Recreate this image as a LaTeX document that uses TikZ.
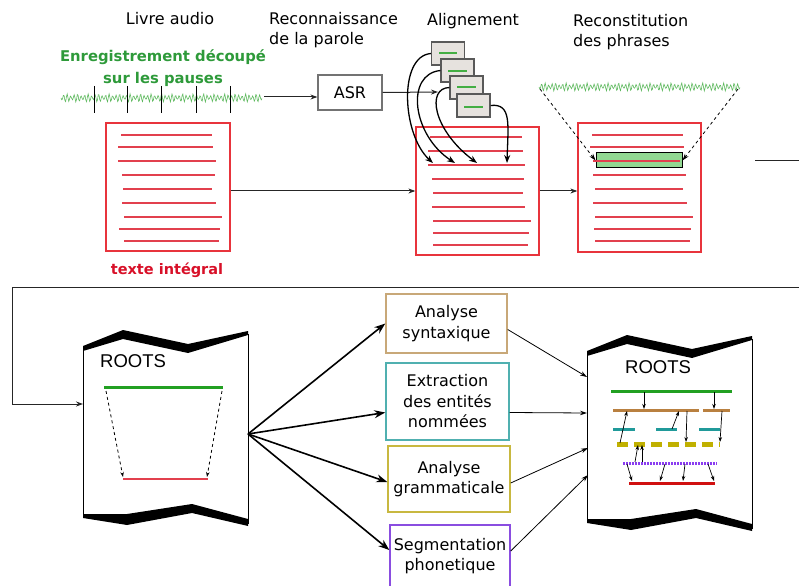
\documentclass[tikz,border=0pt]{standalone}
\usepackage{fontspec}
\setmainfont{DejaVu Sans}
\newfontfamily\rootsfont{Liberation Sans}
\usetikzlibrary{arrows.meta,calc}
\definecolor{redline}{HTML}{E2404E}
\definecolor{redbox}{HTML}{E8343C}
\definecolor{greentxt}{HTML}{2E9A3A}
\definecolor{wavegreen}{HTML}{5DB85D}
\definecolor{redtxt}{HTML}{D81028}
\definecolor{boxfill}{HTML}{E6E2DE}
\definecolor{hlfill}{HTML}{92D892}
\definecolor{syncol}{HTML}{C8A878}
\definecolor{extcol}{HTML}{50B0B0}
\definecolor{gramcol}{HTML}{C8B840}
\definecolor{segcol}{HTML}{8A4DE0}
\definecolor{rgreen}{HTML}{22A022}
\definecolor{rbrown}{HTML}{B98040}
\definecolor{rteal}{HTML}{209A9A}
\definecolor{rolive}{HTML}{C0B000}
\definecolor{rpurple}{HTML}{8A3CF0}
\definecolor{rred}{HTML}{D01010}
\tikzset{
  redframe/.style={draw=redbox, line width=1.3bp, inner sep=0, minimum width=124bp, minimum height=128bp},
  smallbox/.style={draw=black!65, fill=boxfill, line width=1.1bp, minimum width=33bp, minimum height=23bp, inner sep=0},
  wave/.style={draw=wavegreen, line width=0.6bp},
  conn/.style={draw=black!85, line width=1bp, -{Stealth[length=7bp,width=5bp]}},
  curvearrow/.style={draw=black, line width=1.3bp, -{Stealth[length=8bp,width=6bp]}},
  fan/.style={draw=black, line width=1.6bp, -{Stealth[length=11bp,width=8bp]}},
  thinarrow/.style={draw=black, line width=0.8bp, -{Stealth[length=7bp,width=4.5bp]}},
  tiny/.style={draw=black, line width=0.7bp, -{Stealth[length=5bp,width=3.5bp]}},
  procbox/.style={draw, line width=1.4bp, align=center, inner sep=2bp},
}
% thin text-line drawn as a filled bar
\newcommand{\tline}[4]{\fill[#4] (#1,#3-1) rectangle (#2,#3+1);}
\newcommand{\rootsshape}[1]{%
\begin{scope}[shift={#1}]
\fill (0,-4) -- (40,-20) -- (105,-6) -- (165,-19) -- (165,-15) -- (105,3) -- (40,-11) -- (0,1) -- cycle;
\fill (0,164) -- (44,164) -- (109,154) -- (165,169) -- (165,176) -- (109,163) -- (44,175) -- (0,168) -- cycle;
\draw[line width=1bp] (0,0) -- (0,166);
\draw[line width=1bp] (165,-16) -- (165,174);
\end{scope}}
\begin{document}
\begin{tikzpicture}[x=1bp,y=-1bp,font=\fontsize{16bp}{20.5bp}\selectfont]
\useasboundingbox (0,0) rectangle (799,586);
\clip (0,0) rectangle (799,586);

% ---------- top labels
\node (l1) at (170,19) {Livre audio};
\node[anchor=west, align=left, inner sep=0] (l2) at (269,30) {Reconnaissance\\de la parole};
\node (l3) at (473,21) {Alignement};
\node[anchor=west, align=left, inner sep=0] (l4) at (573,32) {Reconstitution\\des phrases};
\node[align=center, text=greentxt, font=\bfseries\fontsize{14.8bp}{21.5bp}\selectfont] (l5) at (163,68) {Enregistrement découpé\\sur les pauses};
\node[text=redtxt, font=\bfseries\fontsize{14.5bp}{17bp}\selectfont] (l6) at (167,270) {texte intégral};

% ---------- waveform 1
\draw[wave] plot[domain=0:201,samples=260] ({\x+61},{98+4.2*sin(mod(\x,3.5)*102.86)*(0.25+0.75*abs(sin(\x*17)))});
\foreach \t in {94,127,161,196,230} \draw[line width=1bp] (\t,86) -- (\t,113);
\coordinate (w1e) at (264,97);

% ---------- ASR
\node[draw=black!55, line width=1.2bp, minimum width=64bp, minimum height=35bp, inner sep=0] (ASR) at (350,92.5) {ASR};
\draw[conn] (w1e) -- (w1e -| ASR.west);
\coordinate (asrend) at (438,92);
\draw[conn] (ASR.east) -- (asrend);

% ---------- full text box
\node[redframe] (txt) at (168,187) {};
\foreach \a/\b/\yy in {121/212/135,118/213/147,118/216/161,122/215/175,123/212/189,122/216/203,124/222/217,119/220/229,124/219/241}
  {\tline{\a}{\b}{\yy}{redline}}

% ---------- alignment box
\node[redframe, minimum width=123bp] (align) at (477.5,191) {};
\foreach \a/\b/\yy in {430/522/137,428/523/151,428/525/165,432/524/179,433/523/193,432/525/207,433/531/221,433/529/233,433/528/245}
  {\tline{\a}{\b}{\yy}{redline}}

% small segment boxes
\node[smallbox] (b1) at (448,53.5) {};
\tline{439}{457}{53}{rgreen!85}
\node[smallbox] (b2) at (457.5,70.5) {};
\tline{448}{467}{71}{rgreen!85}
\node[smallbox] (b3) at (466.5,87.5) {};
\tline{457}{476}{87}{rgreen!85}
\node[smallbox] (b4) at (473.5,105.5) {};
\tline{464}{483}{107}{rgreen!85}

\draw[curvearrow] (b1.west) .. controls (398,56) and (402,135) .. (433,163);
\draw[curvearrow] (b2.west) .. controls (405,74) and (412,135) .. (455,163);
\draw[curvearrow] (b3.west) .. controls (426,88) and (433,130) .. (477,163);
\draw[curvearrow] (b4.east) .. controls (512,103) and (508,125) .. (507,163);

\draw[conn] (txt.east |- align.west) -- (align.west);

% ---------- reconstitution box
\node[redframe, minimum width=123bp, minimum height=129bp] (recon) at (639.5,187.5) {};
\node[draw=black, line width=1bp, fill=hlfill, minimum width=86bp, minimum height=15bp, inner sep=0] (hl) at (639,160.5) {};
\foreach \a/\b/\yy in {592/683/135,590/684/147,593/680/161,593/686/175,595/683/189,593/687/203,595/693/217,594/691/229,595/690/241}
  {\tline{\a}{\b}{\yy}{redline}}
\draw[conn] (align.east) -- (align.east -| recon.west);

\draw[wave] plot[domain=0:201,samples=260] ({\x+539},{87+4.2*sin(mod(\x,3.5)*102.86)*(0.25+0.75*abs(sin(\x*17)))});
\coordinate (w2s) at (540,89);
\coordinate (w2e) at (738,89);
\draw[thinarrow, dashed] (w2s) -- (hl.west);
\draw[thinarrow, dashed] (w2e) -- (hl.east);

% ---------- wrap connector
\coordinate (rt) at (755,161);
\coordinate (rootsLin) at (83,404);
\draw[conn] (rt) -- (815,161) -- (815,287) -- (12,287) -- (12,404) -- (rootsLin);

% ---------- left ROOTS
\rootsshape{(83,350)}
\node[anchor=west, inner sep=0, font=\rootsfont\fontsize{18.5bp}{20bp}\selectfont] (rootsL) at (100,361) {ROOTS};
\fill[rgreen] (104,386) rectangle (223,389);
\tline{123}{208}{479}{redline}
\coordinate (lg1) at (106,391); \coordinate (lr1) at (123,477);
\coordinate (lg2) at (222,391); \coordinate (lr2) at (207,477);
\draw[tiny, dashed, line width=0.8bp] (lg1) -- (lr1);
\draw[tiny, dashed, line width=0.8bp] (lg2) -- (lr2);
\coordinate (rootsLout) at (248,434);

% ---------- process boxes
\node[procbox, draw=syncol, minimum width=121bp, minimum height=59bp] (syn) at (446.5,323.5) {Analyse\\syntaxique};
\node[procbox, draw=extcol, minimum width=123bp, minimum height=77bp] (ext) at (447.5,401.5) {Extraction\\des entités\\nommées};
\node[procbox, draw=gramcol, minimum width=122bp, minimum height=66bp] (gram) at (449,479) {Analyse\\grammaticale};
\node[procbox, draw=segcol, minimum width=120bp, minimum height=62bp] (seg) at (450,556) {Segmentation\\phonetique};

\draw[fan] (rootsLout) -- (syn.west);
\draw[fan] (rootsLout) -- ([yshift=-11bp]ext.west);
\draw[fan] (rootsLout) -- ([yshift=-3bp]gram.west);
\draw[fan] (rootsLout) -- ([yshift=6bp]seg.west);

% ---------- right ROOTS
\rootsshape{(587,355)}
\node[anchor=west, inner sep=0, font=\rootsfont\fontsize{18.5bp}{20bp}\selectfont] (rootsR) at (625,367) {ROOTS};
\coordinate (rin1) at (587,377);
\coordinate (rin2) at (587,413);
\coordinate (rin3) at (588,448);
\coordinate (rin4) at (588,475);
\draw[thinarrow] ([yshift=-6bp]syn.east) -- (rin1);
\draw[thinarrow] ([yshift=-11bp]ext.east) -- (rin2);
\draw[thinarrow] ([yshift=-4bp]gram.east) -- (rin3);
\draw[thinarrow] ([yshift=5bp]seg.east) -- (rin4);

\draw[draw=rgreen, line width=3bp] (611,391) -- (732,391);
\draw[draw=rbrown, line width=3bp] (613,410) -- (699,410);
\draw[draw=rbrown, line width=3bp] (703,410) -- (730,410);
\foreach \a/\b in {613/635,656/677,699/720} \draw[draw=rteal, line width=3bp] (\a,429) -- (\b,429);
\draw[draw=rolive, line width=5bp, dash pattern=on 11bp off 6bp] (617,444) -- (720,444);
\draw[draw=rpurple, line width=3bp, dash pattern=on 1.5bp off 1.5bp] (623,463) -- (717,463);
\draw[draw=rred, line width=3bp] (629,483) -- (715,483);

\draw[tiny] (644,392) -- (644,409);
\draw[tiny] (714,392) -- (714,409);
\draw[tiny] (620,443) -- (627,411);
\draw[tiny] (672,429) -- (679,411);
\draw[tiny] (687,411) -- (686,442);
\draw[tiny] (722,411) -- (720,442);
\draw[tiny] (635,462) -- (638,445);
\draw[tiny] (642,462) -- (642,445);
\draw[tiny] (627,464) -- (632,481);
\draw[tiny] (665,464) -- (660,481);
\draw[tiny] (685,464) -- (683,481);
\draw[tiny] (708,464) -- (714,481);
\end{tikzpicture}
\end{document}
